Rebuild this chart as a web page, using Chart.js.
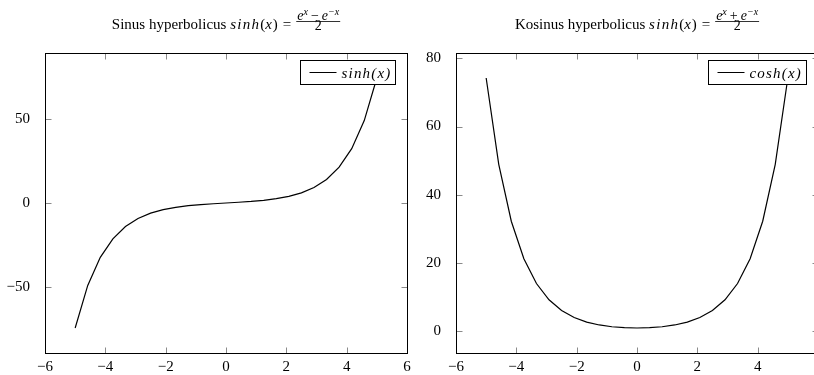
<!DOCTYPE html>
<html>
<head>
<meta charset="utf-8">
<script src="https://cdn.jsdelivr.net/npm/chart.js@4.4.0/dist/chart.umd.min.js"></script>
<style>
  html, body { margin: 0; padding: 0; background: #fff; overflow: hidden; width: 814px; height: 375px; }
  canvas { position: absolute; top: 0; }
</style>
</head>
<body>
<canvas id="sinhChart" width="420" height="375" style="left:0"></canvas>
<canvas id="coshChart" width="420" height="375" style="left:410px"></canvas>
<script>
// 25 samples on [-5, 5]
const xSamples = [-5, -4.583, -4.167, -3.75, -3.333, -2.917, -2.5, -2.083, -1.667, -1.25, -0.833, -0.417, 0,
                  0.417, 0.833, 1.25, 1.667, 2.083, 2.5, 2.917, 3.333, 3.75, 4.167, 4.583, 5];
const sinhValues = [-74.20, -48.92, -32.24, -21.25, -14.00, -9.21, -6.05, -3.95, -2.55, -1.60, -0.93, -0.43, 0,
                    0.43, 0.93, 1.60, 2.55, 3.95, 6.05, 9.21, 14.00, 21.25, 32.24, 48.92, 74.20];
const coshValues = [74.21, 48.93, 32.26, 21.27, 14.03, 9.27, 6.13, 4.08, 2.74, 1.89, 1.37, 1.09, 1,
                    1.09, 1.37, 1.89, 2.74, 4.08, 6.13, 9.27, 14.03, 21.27, 32.26, 48.93, 74.21];
const xTicks = [-6, -4, -2, 0, 2, 4, 6];
const sinhTicks = [-50, 0, 50];
const coshTicks = [0, 20, 40, 60, 80];

const SERIF = '"Liberation Serif", "DejaVu Serif", serif';
const fmt = v => v < 0 ? '\u2212' + Math.abs(v) : String(v);

function drawTitle(ctx, cx, base, lead, sign) {
    // [text, font, letterSpacing, extra gap after]
    const main = [
        [lead + ' ', `15px ${SERIF}`, '0px', 0],
        ['sinh', `italic 15px ${SERIF}`, '1.3px', 0],
        ['(', `15px ${SERIF}`, '0px', 0],
        ['x', `italic 15px ${SERIF}`, '0px', 0.8],
        [')', `15px ${SERIF}`, '0px', 5],
        ['=', `15px ${SERIF}`, '0px', 5]
    ];
    // [text, font, dy, extra gap after]
    const num = [
        ['e', `italic 14px ${SERIF}`, 0, 0],
        ['x', `italic 10px ${SERIF}`, -4.5, 3],
        [sign, `14px ${SERIF}`, 0, 3],
        ['e', `italic 14px ${SERIF}`, 0, 0],
        ['\u2212x', `italic 10px ${SERIF}`, -4.5, 0]
    ];
    const measure = (t, f, ls) => { ctx.font = f; ctx.letterSpacing = ls || '0px'; return ctx.measureText(t).width; };
    let mainW = 0;
    main.forEach(p => mainW += measure(p[0], p[1], p[2]) + p[3]);
    let numW = 0;
    num.forEach(p => numW += measure(p[0], p[1]) + p[3]);
    const fracW = numW + 2;
    let x = cx - (mainW + fracW) / 2;
    ctx.fillStyle = '#000';
    ctx.textBaseline = 'alphabetic';
    ctx.textAlign = 'left';
    main.forEach(p => {
        const w = measure(p[0], p[1], p[2]);
        ctx.fillText(p[0], x, base);
        x += w + p[3];
    });
    ctx.letterSpacing = '0px';
    let nx = x + 1;
    num.forEach(p => {
        const w = measure(p[0], p[1]);
        ctx.fillText(p[0], nx, base - 9.5 + p[2]);
        nx += w + p[3];
    });
    ctx.fillRect(x, base - 8, fracW, 0.8);
    ctx.font = `14px ${SERIF}`;
    ctx.textAlign = 'center';
    ctx.fillText('2', x + fracW / 2, base + 0.5);
}

const pgfStyle = {
    id: 'pgfStyle',
    afterDatasetsDraw(chart, args, opts) {
        const { ctx, chartArea: a, scales: { x, y } } = chart;
        const L = Math.round(a.left) + 0.5, R = Math.round(a.right) + 0.5;
        const T = Math.round(a.top) + 0.5, B = Math.round(a.bottom) + 0.5;
        ctx.save();
        // tick marks inside the frame, all four sides
        ctx.strokeStyle = '#8a8a8a';
        ctx.lineWidth = 1;
        ctx.beginPath();
        const tl = 6;
        x.ticks.forEach(t => {
            const px = Math.round(x.getPixelForValue(t.value)) + 0.5;
            if (px <= L + 1 || px >= R - 1) return;
            ctx.moveTo(px, B); ctx.lineTo(px, B - tl);
            ctx.moveTo(px, T); ctx.lineTo(px, T + tl);
        });
        y.ticks.forEach(t => {
            const py = Math.round(y.getPixelForValue(t.value)) + 0.5;
            if (py <= T + 1 || py >= B - 1) return;
            ctx.moveTo(L, py); ctx.lineTo(L + tl, py);
            ctx.moveTo(R, py); ctx.lineTo(R - tl, py);
        });
        ctx.stroke();
        // frame
        ctx.strokeStyle = '#000';
        ctx.strokeRect(L, T, R - L, B - T);
        // legend box, top right
        const label = chart.data.datasets[0].label;
        ctx.font = `italic 15px ${SERIF}`;
        ctx.letterSpacing = '1.2px';
        const tw = ctx.measureText(label).width;
        const bw = Math.round(9 + 27 + 5 + tw + 4);
        const bh = 24;
        const bx = Math.round(a.right - 12 - bw) + 0.5, by = Math.round(a.top + 7) + 0.5;
        ctx.fillStyle = '#fff';
        ctx.fillRect(bx, by, bw, bh);
        ctx.strokeStyle = '#000';
        ctx.strokeRect(bx, by, bw, bh);
        ctx.beginPath();
        ctx.moveTo(bx + 9, by + bh / 2);
        ctx.lineTo(bx + 36, by + bh / 2);
        ctx.lineWidth = 1;
        ctx.stroke();
        ctx.fillStyle = '#000';
        ctx.textBaseline = 'alphabetic';
        ctx.textAlign = 'left';
        ctx.fillText(label, bx + 41, by + bh / 2 + 5);
        ctx.restore();
    },
    afterDraw(chart, args, opts) {
        const a = chart.chartArea;
        const ctx = chart.ctx;
        ctx.save();
        drawTitle(ctx, (a.left + a.right) / 2, 29, opts.lead, opts.sign);
        ctx.restore();
    }
};

function makeChart(id, label, values, yMin, yMax, yTicks, yWidth, padRight, lead, sign) {
    return new Chart(document.getElementById(id), {
        type: 'line',
        data: {
            datasets: [{
                label: label,
                data: xSamples.map((x, i) => ({ x, y: values[i] })),
                borderColor: '#000',
                borderWidth: 1.2,
                pointRadius: 0,
                tension: 0,
                fill: false
            }]
        },
        options: {
            responsive: false,
            animation: false,
            layout: { padding: { left: 0, right: padRight, top: 53, bottom: 0 } },
            plugins: {
                legend: { display: false },
                title: { display: false },
                tooltip: { enabled: false },
                pgfStyle: { lead, sign }
            },
            scales: {
                x: {
                    type: 'linear', min: -6, max: 6,
                    grid: { display: false }, border: { display: false },
                    afterBuildTicks: s => { s.ticks = xTicks.map(v => ({ value: v })); },
                    afterFit: s => { s.height = 22; },
                    ticks: { padding: -3, color: '#000', font: { family: SERIF, size: 15 }, callback: fmt, autoSkip: false, maxRotation: 0 }
                },
                y: {
                    type: 'linear', min: yMin, max: yMax,
                    grid: { display: false }, border: { display: false },
                    afterBuildTicks: s => { s.ticks = yTicks.map(v => ({ value: v })); },
                    afterFit: s => { s.width = yWidth; },
                    ticks: { padding: 7, color: '#000', font: { family: SERIF, size: 15 }, callback: fmt, autoSkip: false }
                }
            }
        },
        plugins: [pgfStyle]
    });
}

makeChart('sinhChart', 'sinh(x)', sinhValues, -89.04, 89.04, sinhTicks, 45, 13, 'Sinus hyperbolicus', '\u2212');
makeChart('coshChart', 'cosh(x)', coshValues, -6.32, 81.53, coshTicks, 46, 12, 'Kosinus hyperbolicus', '+');
</script>
</body>
</html>
